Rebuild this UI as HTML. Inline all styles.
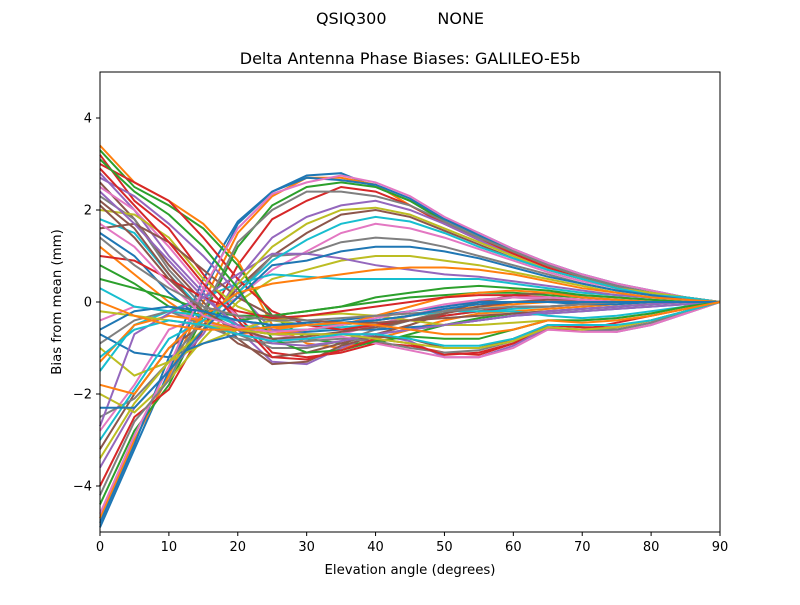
<!DOCTYPE html>
<html><head><meta charset="utf-8"><style>
body{margin:0;background:#fff}
svg text{font-family:"DejaVu Sans","Liberation Sans",sans-serif;fill:#000}
</style></head><body>
<svg id="chart" width="800" height="600" xmlns="http://www.w3.org/2000/svg">
<rect width="800" height="600" fill="#fff"/>
<text x="400" y="24" font-size="16" text-anchor="middle" xml:space="preserve">QSIQ300          NONE</text>
<text x="410" y="64" font-size="16" text-anchor="middle">Delta Antenna Phase Biases: GALILEO-E5b</text>
<g id="lines"></g>
<rect x="100" y="72" width="620" height="460" fill="none" stroke="#000" stroke-width="1"/>
<g id="axes"></g>
<text x="410" y="574" font-size="13.3" text-anchor="middle">Elevation angle (degrees)</text>
<text x="0" y="0" font-size="13.3" text-anchor="middle" transform="translate(61,302) rotate(-90)">Bias from mean (mm)</text>
</svg>
<script>
const elevations=[0,5,10,15,20,25,30,35,40,45,50,55,60,65,70,75,80,85,90];
const xTicks=[0,10,20,30,40,50,60,70,80,90];
const yTicks=[-4,-2,0,2,4];
const series=[
[-4.9,-3.2,-1.5,0.2,1.7,2.4,2.75,2.8,2.5,2.2,1.8,1.45,1.1,0.8,0.55,0.35,0.2,0.1,0],
[-4.7,-3.0,-1.6,0,1.5,2.3,2.7,2.7,2.55,2.1,1.7,1.4,1.05,0.75,0.5,0.3,0.2,0.1,0],
[-4.4,-2.8,-1.8,-0.3,1.2,2.1,2.5,2.6,2.5,2.2,1.75,1.4,1.1,0.8,0.55,0.35,0.2,0.1,0],
[-4.0,-2.5,-1.9,-0.6,0.8,1.8,2.2,2.5,2.4,2.1,1.7,1.35,1.05,0.75,0.5,0.3,0.2,0.1,0],
[-3.6,-2.3,-1.5,-0.7,0.5,1.4,1.85,2.1,2.2,2.0,1.7,1.35,1.0,0.7,0.5,0.3,0.2,0.1,0],
[-3.2,-2.0,-1.0,-0.5,0.3,1.0,1.5,1.9,2.0,1.85,1.55,1.25,0.95,0.7,0.5,0.3,0.2,0.1,0],
[-2.8,-1.8,-0.6,-0.3,0.1,0.7,1.1,1.5,1.7,1.6,1.4,1.15,0.9,0.65,0.45,0.3,0.15,0.1,0],
[-2.5,-2.1,-1.3,-0.4,0.2,1.0,1.05,1.3,1.4,1.35,1.2,1.0,0.8,0.6,0.4,0.25,0.15,0.05,0],
[-2.0,-2.4,-1.7,-0.8,0.0,0.5,0.7,0.9,1.0,1.0,0.9,0.8,0.65,0.5,0.35,0.2,0.1,0.05,0],
[-1.5,-0.5,-0.2,0.1,0.4,0.6,0.55,0.5,0.5,0.5,0.5,0.5,0.4,0.3,0.2,0.15,0.1,0.05,0],
[-4.8,-3.1,-1.2,0.5,1.75,2.4,2.7,2.65,2.55,2.25,1.8,1.5,1.15,0.85,0.6,0.4,0.25,0.1,0],
[3.4,2.6,2.2,1.7,0.9,-0.5,-0.9,-1.0,-0.8,-0.6,-0.4,-0.25,-0.2,-0.15,-0.1,-0.05,0,0,0],
[3.3,2.5,2.1,1.6,0.8,-0.3,-0.8,-0.9,-0.9,-0.7,-0.5,-0.35,-0.25,-0.2,-0.15,-0.1,-0.05,0,0],
[3.2,2.2,1.6,0.6,-0.3,-1.1,-1.2,-1.1,-0.9,-0.95,-1.1,-1.15,-0.9,-0.6,-0.6,-0.45,-0.3,-0.15,0],
[2.8,2.0,1.0,0.2,-0.6,-1.3,-1.35,-1.0,-0.7,-0.85,-1.2,-1.2,-0.95,-0.55,-0.6,-0.65,-0.5,-0.25,0],
[2.6,1.8,0.8,0.0,-0.8,-1.35,-1.3,-0.95,-0.75,-0.8,-1.0,-1.0,-0.8,-0.5,-0.55,-0.6,-0.45,-0.2,0],
[2.5,2.0,1.2,0.3,-0.3,-0.7,-0.8,-0.7,-0.5,-0.3,-0.1,0.05,0.1,0.05,0,0,0,0,0],
[2.3,1.8,0.7,-0.1,-0.7,-1.0,-1.0,-0.85,-0.6,-0.4,-0.2,0,0.1,0.1,0.05,0,0,0,0],
[2.0,1.9,1.4,0.5,-0.1,-0.4,-0.5,-0.5,-0.4,-0.3,-0.2,-0.1,0,0,0,0,0,0,0],
[1.8,1.5,0.6,-0.2,-0.5,-0.6,-0.6,-0.55,-0.5,-0.4,-0.3,-0.2,-0.15,-0.1,-0.05,0,0,0,0],
[1.5,1.0,0.2,-0.4,-0.6,-0.7,-0.65,-0.6,-0.6,-0.55,-0.5,-0.4,-0.3,-0.25,-0.2,-0.15,-0.1,-0.05,0],
[1.2,0.6,0.0,-0.5,-0.7,-0.6,-0.5,-0.45,-0.4,-0.3,-0.2,-0.1,-0.05,0,0,0,0,0,0],
[0.8,0.4,-0.1,-0.3,-0.4,-0.3,-0.2,-0.1,0,0.1,0.15,0.2,0.2,0.15,0.1,0.05,0,0,0],
[3.0,2.6,2.2,1.4,0.5,-0.2,-0.5,-0.6,-0.5,-0.4,-0.3,-0.2,-0.1,-0.1,-0.05,0,0,0,0],
[2.7,2.3,1.7,1.0,0.2,-0.6,-0.7,-0.7,-0.7,-0.6,-0.5,-0.4,-0.3,-0.25,-0.2,-0.15,-0.1,-0.05,0],
[2.2,1.6,0.6,-0.3,-0.9,-1.2,-1.1,-0.9,-0.7,-0.5,-0.25,0,0.15,0.2,0.15,0.1,0.05,0,0],
[-0.4,-0.1,-0.2,-0.4,-0.7,-0.8,-0.8,-0.75,-0.9,-1.05,-1.2,-1.2,-1.0,-0.6,-0.65,-0.65,-0.5,-0.25,0],
[-0.9,-0.4,-0.2,-0.5,-0.8,-0.9,-0.85,-0.8,-0.85,-1.0,-1.1,-1.05,-0.85,-0.55,-0.6,-0.6,-0.45,-0.2,0],
[-1.0,-1.6,-1.3,-0.9,-0.6,-0.4,-0.3,-0.25,-0.3,-0.4,-0.5,-0.5,-0.45,-0.4,-0.4,-0.35,-0.25,-0.1,0],
[0.3,-0.1,-0.2,-0.3,-0.4,-0.5,-0.5,-0.5,-0.4,-0.3,-0.2,-0.2,-0.2,-0.3,-0.35,-0.3,-0.2,-0.1,0],
[-0.7,-1.1,-1.2,-0.9,-0.7,-0.5,-0.45,-0.4,-0.3,-0.2,-0.1,0,0,0,-0.05,-0.05,0,0,0],
[-1.3,-0.5,-0.3,-0.4,-0.6,-0.7,-0.6,-0.5,-0.3,-0.1,0.1,0.2,0.25,0.2,0.1,0.05,0,0,0],
[0.5,0.3,0.1,-0.2,-0.3,-0.3,-0.2,-0.1,0.1,0.2,0.3,0.35,0.3,0.25,0.15,0.1,0.05,0,0],
[1.0,0.9,0.5,0.1,-0.2,-0.35,-0.3,-0.2,-0.1,0,0.1,0.15,0.15,0.1,0.05,0,0,0,0],
[-2.7,-0.7,-0.25,0.1,0.6,1.05,1.05,0.95,0.8,0.7,0.6,0.55,0.45,0.35,0.25,0.15,0.1,0.05,0],
[1.6,1.7,1.3,0.7,0.1,-0.3,-0.4,-0.45,-0.45,-0.4,-0.35,-0.3,-0.25,-0.2,-0.15,-0.1,-0.05,0,0],
[-4.6,-2.9,-1.4,0.3,1.6,2.35,2.6,2.75,2.6,2.3,1.85,1.5,1.15,0.85,0.6,0.4,0.25,0.1,0],
[-4.2,-2.6,-1.7,-0.2,1.3,2.0,2.4,2.4,2.3,2.1,1.75,1.4,1.1,0.8,0.55,0.35,0.2,0.1,0],
[-3.4,-2.2,-1.3,-0.6,0.4,1.2,1.7,2.0,2.05,1.9,1.6,1.3,1.0,0.7,0.5,0.3,0.2,0.1,0],
[-3.0,-1.9,-0.8,-0.4,0.2,0.9,1.35,1.7,1.85,1.75,1.5,1.2,0.95,0.7,0.5,0.3,0.15,0.1,0],
[-2.3,-2.3,-1.5,-0.6,0.1,0.8,0.9,1.1,1.2,1.2,1.1,0.95,0.75,0.55,0.4,0.25,0.15,0.05,0],
[-1.8,-2.0,-1.0,-0.3,0.2,0.4,0.5,0.6,0.7,0.75,0.75,0.7,0.6,0.45,0.3,0.2,0.1,0.05,0],
[3.1,2.4,1.9,1.2,0.3,-0.8,-1.1,-1.05,-0.85,-0.75,-0.8,-0.8,-0.6,-0.4,-0.4,-0.35,-0.25,-0.1,0],
[2.9,2.1,1.3,0.4,-0.4,-1.2,-1.25,-1.05,-0.8,-0.9,-1.15,-1.1,-0.9,-0.5,-0.55,-0.55,-0.4,-0.2,0],
[2.4,1.7,0.9,0.1,-0.5,-0.9,-0.95,-0.85,-0.7,-0.6,-0.5,-0.4,-0.3,-0.2,-0.15,-0.1,-0.05,0,0],
[2.1,1.4,0.5,-0.2,-0.6,-0.8,-0.75,-0.65,-0.55,-0.4,-0.25,-0.1,0,0.05,0.05,0,0,0,0],
[1.7,1.2,0.4,-0.3,-0.55,-0.65,-0.6,-0.5,-0.35,-0.2,-0.05,0.05,0.1,0.1,0.05,0,0,0,0],
[1.4,0.8,0.3,-0.1,-0.3,-0.4,-0.4,-0.35,-0.3,-0.25,-0.2,-0.15,-0.1,-0.1,-0.05,0,0,0,0],
[-0.2,-0.3,-0.4,-0.5,-0.6,-0.7,-0.7,-0.7,-0.8,-0.9,-1.0,-1.0,-0.85,-0.55,-0.6,-0.55,-0.4,-0.2,0],
[-1.2,-0.6,-0.4,-0.5,-0.7,-0.85,-0.8,-0.7,-0.7,-0.8,-0.95,-0.95,-0.8,-0.5,-0.5,-0.5,-0.4,-0.2,0],
[-0.6,-0.2,-0.1,-0.2,-0.4,-0.5,-0.5,-0.45,-0.4,-0.3,-0.15,-0.05,0,0,0,0,0,0,0],
[0.0,-0.3,-0.5,-0.6,-0.6,-0.55,-0.5,-0.45,-0.5,-0.6,-0.7,-0.7,-0.6,-0.4,-0.45,-0.4,-0.3,-0.15,0]
];
const colors=["#1f77b4","#ff7f0e","#2ca02c","#d62728","#9467bd","#8c564b","#e377c2","#7f7f7f","#bcbd22","#17becf"];
const NS="http://www.w3.org/2000/svg";
function xs(v){return 100+(v/90)*620;}
function ys(v){return 302-v*46;}
const g=document.getElementById('lines');
series.forEach((s,i)=>{
  const p=document.createElementNS(NS,'polyline');
  p.setAttribute('points',s.map((v,j)=>xs(elevations[j]).toFixed(1)+','+ys(v).toFixed(1)).join(' '));
  p.setAttribute('fill','none');
  p.setAttribute('stroke',colors[i%10]);
  p.setAttribute('stroke-width','2');
  
  
  g.appendChild(p);
});
const ax=document.getElementById('axes');
xTicks.forEach(t=>{
  const l=document.createElementNS(NS,'line');
  l.setAttribute('x1',xs(t));l.setAttribute('x2',xs(t));l.setAttribute('y1',532);l.setAttribute('y2',536);l.setAttribute('stroke','#000');
  
  
  ax.appendChild(l);
  const tx=document.createElementNS(NS,'text');
  tx.setAttribute('x',xs(t));tx.setAttribute('y',551);tx.setAttribute('font-size','13');tx.setAttribute('text-anchor','middle');
  tx.textContent=t;
  
  
  ax.appendChild(tx);
});
yTicks.forEach(t=>{
  const l=document.createElementNS(NS,'line');
  l.setAttribute('x1',96);l.setAttribute('x2',100);l.setAttribute('y1',ys(t));l.setAttribute('y2',ys(t));l.setAttribute('stroke','#000');
  
  
  ax.appendChild(l);
  const tx=document.createElementNS(NS,'text');
  tx.setAttribute('x',92);tx.setAttribute('y',ys(t)+4.5);tx.setAttribute('font-size','13');tx.setAttribute('text-anchor','end');
  tx.textContent=t<0?'\u2212'+Math.abs(t):t;
  
  
  ax.appendChild(tx);
});
</script>
</body></html>
